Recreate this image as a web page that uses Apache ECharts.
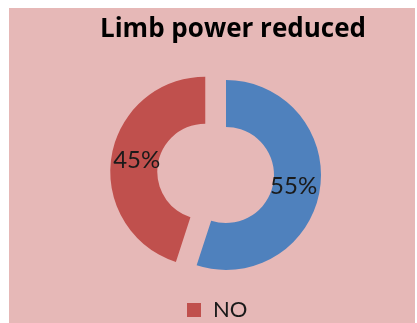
<!DOCTYPE html>
<html>
<head>
<meta charset="utf-8">
<script src="https://cdn.jsdelivr.net/npm/echarts@6/dist/echarts.min.js"></script>
<style>
  html, body { margin: 0; padding: 0; background: #ffffff; }
  #chart { position: absolute; left: 9px; top: 8px; width: 406px; height: 315px; background: #E6B8B7; }
</style>
</head>
<body>
<div id="chart"></div>
<script>
// Share of patients with reduced limb power
const categories = ['YES', 'NO'];
const shares = [55, 45];
const sliceColors = ['#4F81BD', '#C0504D'];
// label padding [top, right, bottom, left] to fine-tune each percentage label
const labelPads = [[2, 12, 0, 0], [2, 0, 0, 10]];
const legendItems = ['NO'];
const titleText = 'Limb power reduced';

const chart = echarts.init(document.getElementById('chart'));

const pieData = categories.map((name, i) => ({
  name: name,
  value: shares[i],
  selected: name === 'NO',
  itemStyle: { color: sliceColors[i] },
  label: { padding: labelPads[i] }
}));

chart.setOption({
  backgroundColor: '#E6B8B7',
  animation: false,
  title: {
    text: titleText,
    left: 86,
    top: 4,
    textStyle: { fontFamily: 'Open Sans', fontWeight: 'bold', fontSize: 26, color: '#000000' }
  },
  legend: {
    data: legendItems,
    left: 173,
    top: 286,
    icon: 'rect',
    itemWidth: 14,
    itemHeight: 14,
    textStyle: { fontFamily: 'Lato', fontSize: 22, color: '#1a1a1a', padding: [0, 0, 0, 7] }
  },
  series: [{
    type: 'pie',
    center: [217, 167],
    radius: [48, 95],
    startAngle: 90,
    clockwise: true,
    selectedMode: 'single',
    selectedOffset: 21,
    avoidLabelOverlap: false,
    label: {
      show: true,
      position: 'inside',
      formatter: '{d}%',
      fontFamily: 'Lato',
      fontSize: 24,
      color: '#1a1a1a'
    },
    labelLine: { show: false },
    emphasis: { disabled: true },
    data: pieData
  }]
});
</script>
</body>
</html>
